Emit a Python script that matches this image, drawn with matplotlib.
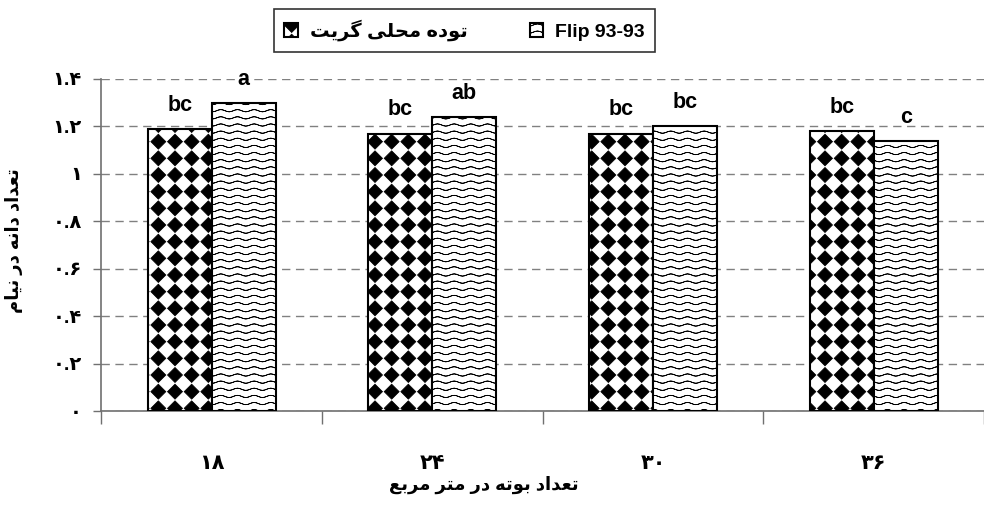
import numpy as np
import matplotlib
matplotlib.use('Agg')
import matplotlib.pyplot as plt
from matplotlib import hatch as mhatch
from matplotlib.path import Path

plt.rcParams.update({
    'font.family': ['Liberation Sans', 'DejaVu Sans'],
    'font.weight': 'bold',
    'hatch.linewidth': 0.55,
})

# data
groups = ['۱۸', '۲۴', '۳۰', '۳۶']
local_vals = [1.19, 1.17, 1.17, 1.18]
flip_vals = [1.30, 1.24, 1.20, 1.14]
local_letters = ['bc', 'bc', 'bc', 'bc']
flip_letters = ['a', 'ab', 'bc', 'c']
y_ticks = [0, 0.2, 0.4, 0.6, 0.8, 1.0, 1.2, 1.4]
y_tick_labels = ['۰', '۰.۲', '۰.۴', '۰.۶', '۰.۸', '۱', '۱.۲', '۱.۴']
local_name = 'توده محلی گریت'
flip_name = 'Flip 93-93'
x_title = 'تعداد بوته در متر مربع'
y_title = 'تعداد دانه در نیام'

# minimal Persian shaping (matplotlib has no RTL/joining support)
FORMS = {
    'ا': ('\uFE8D', '\uFE8E', None, None),
    'ب': ('\uFE8F', '\uFE90', '\uFE91', '\uFE92'),
    'ت': ('\uFE95', '\uFE96', '\uFE97', '\uFE98'),
    'ح': ('\uFEA1', '\uFEA2', '\uFEA3', '\uFEA4'),
    'د': ('\uFEA9', '\uFEAA', None, None),
    'ر': ('\uFEAD', '\uFEAE', None, None),
    'ع': ('\uFEC9', '\uFECA', '\uFECB', '\uFECC'),
    'ل': ('\uFEDD', '\uFEDE', '\uFEDF', '\uFEE0'),
    'م': ('\uFEE1', '\uFEE2', '\uFEE3', '\uFEE4'),
    'ن': ('\uFEE5', '\uFEE6', '\uFEE7', '\uFEE8'),
    'ه': ('\uFEE9', '\uFEEA', '\uFEEB', '\uFEEC'),
    'و': ('\uFEED', '\uFEEE', None, None),
    'ی': ('\uFEEF', '\uFEF0', '\uFEF3', '\uFEF4'),
    'گ': ('\uFB92', '\uFB93', '\uFB94', '\uFB95'),
}


def fa(text):
    out = []
    for i, ch in enumerate(text):
        if ch not in FORMS:
            out.append(ch)
            continue
        prev = text[i - 1] if i > 0 else ''
        nxt = text[i + 1] if i + 1 < len(text) else ''
        to_prev = prev in FORMS and FORMS[prev][2] is not None
        to_next = nxt in FORMS and FORMS[ch][2] is not None
        iso, fin, ini, med = FORMS[ch]
        if to_prev and to_next:
            out.append(med)
        elif to_prev:
            out.append(fin)
        elif to_next:
            out.append(ini)
        else:
            out.append(iso)
    return ''.join(reversed(out))


# Excel-like fill patterns as hatches ('*' -> diamonds, 'o' -> waves)
class DiamondHatch(mhatch.HatchPatternBase):
    def __init__(self, hatch, density):
        self.n = hatch.count('*') * density
        self.num_vertices = self.n * self.n * 5

    def set_vertices_and_codes(self, vertices, codes):
        r = 0.45 / self.n
        c = (np.arange(self.n) + 0.5) / self.n
        cx, cy = np.meshgrid(c, c)
        centers = np.column_stack([cx.ravel(), cy.ravel()])
        shape = np.array([[0, r], [r, 0], [0, -r], [-r, 0], [0, r]])
        vertices[:] = (centers[:, None, :] + shape[None, :, :]).reshape(-1, 2)
        one = [Path.MOVETO, Path.LINETO, Path.LINETO, Path.LINETO, Path.CLOSEPOLY]
        codes[:] = np.tile(one, self.n * self.n)


class WaveHatch(mhatch.HatchPatternBase):
    def __init__(self, hatch, density):
        k = hatch.count('o')
        self.rows = 14 * k
        self.waves = 6 * k
        self.pts = self.waves * 8 + 1
        self.num_vertices = self.rows * 2 * self.pts if k else 0

    def set_vertices_and_codes(self, vertices, codes):
        xs = np.linspace(0, 1, self.pts)
        parts = []
        for i in range(self.rows):
            ys = (i + 0.5) / self.rows + 0.011 * np.sin(2 * np.pi * self.waves * xs)
            line = np.column_stack([xs, ys])
            parts.append(np.vstack([line, line[::-1]]))
        vertices[:] = np.vstack(parts)
        one = np.full(2 * self.pts, Path.LINETO)
        one[0] = Path.MOVETO
        codes[:] = np.tile(one, self.rows)


mhatch._hatch_types = [DiamondHatch if t is mhatch.Stars else
                       WaveHatch if t is mhatch.SmallCircles else t
                       for t in mhatch._hatch_types]

fig = plt.figure(figsize=(9.84, 5.21), dpi=100)
ax = fig.add_axes([0.1031, 0.2111, 0.8969, 0.6373])

x = np.arange(len(groups))
w = 0.29
b1 = ax.bar(x - w / 2, local_vals, w, facecolor='white', edgecolor='black',
            hatch='*', linewidth=1.5, zorder=3)
b2 = ax.bar(x + w / 2, flip_vals, w, facecolor='white', edgecolor='black',
            hatch='o', linewidth=1.5, zorder=3)

for bars, letters in [(b1, local_letters), (b2, flip_letters)]:
    for bar, lt in zip(bars, letters):
        ax.annotate(lt, (bar.get_x() + bar.get_width() / 2, bar.get_height()),
                    xytext=(0, 13), textcoords='offset points',
                    ha='center', va='baseline', fontsize=15.5, fontweight='bold')

ax.set_xlim(-0.5, 3.49)
ax.set_ylim(0, 1.4)
ax.set_yticks(y_ticks)
ax.set_yticklabels(y_tick_labels)
ax.set_xticks(np.arange(-0.5, 3.6, 1.0))
ax.set_xticklabels([])
ax.set_xticks(x, minor=True)
ax.set_xticklabels(groups, minor=True)
ax.tick_params(axis='x', which='major', length=9, color='#707070', width=1.0)
ax.tick_params(axis='x', which='minor', length=0, pad=31, labelsize=15)
ax.tick_params(axis='y', length=6, color='#707070', width=1.0, pad=8, labelsize=14)

ax.yaxis.grid(True, linestyle=(0, (6, 4)), color='#808080', linewidth=1.0)
ax.set_axisbelow(True)
for side in ['top', 'right']:
    ax.spines[side].set_visible(False)
for side in ['left', 'bottom']:
    ax.spines[side].set_color('#707070')
    ax.spines[side].set_linewidth(1.2)

ax.set_xlabel(fa(x_title), fontsize=13, fontweight='bold')
ax.xaxis.set_label_coords(0.433, -0.195)
ax.set_ylabel(fa(y_title), fontsize=13, fontweight='bold')
ax.yaxis.set_label_coords(-0.089, 0.514)

leg = fig.legend([b1, b2], [fa(local_name), flip_name], loc='center',
                 bbox_to_anchor=(0.472, 0.942), ncol=2, frameon=True,
                 fancybox=False, edgecolor='black', handlelength=0.7,
                 handleheight=0.7, handletextpad=0.6, columnspacing=3.2,
                 borderpad=0.55, borderaxespad=0,
                 prop={'size': 14, 'weight': 'bold'})
leg.get_frame().set_linewidth(1.2)

fig.savefig('out.png', dpi=100)
